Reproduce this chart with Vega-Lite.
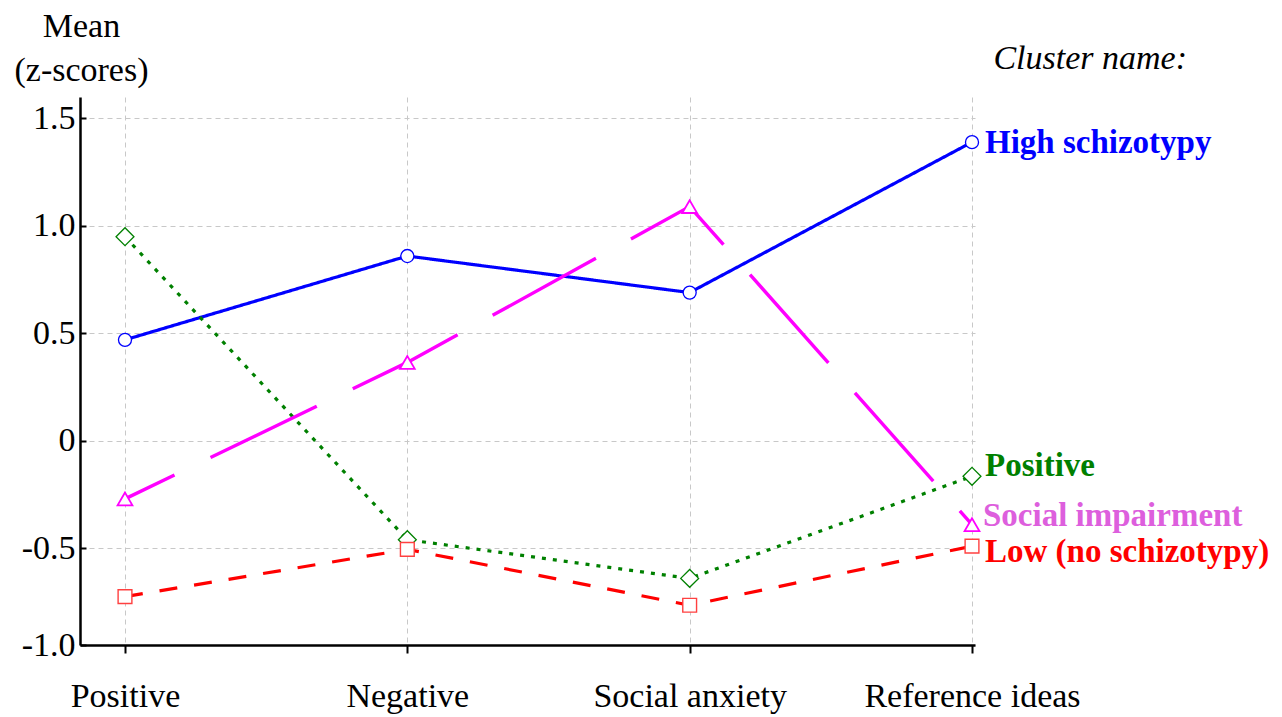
{
  "$schema": "https://vega.github.io/schema/vega-lite/v6.json",
  "autosize": {"type": "none"},
  "padding": {"left": 80, "top": 97, "right": 307, "bottom": 72},
  "width": 895,
  "height": 548,
  "background": "white",
  "config": {
    "view": {"stroke": null},
    "font": "Liberation Serif",
    "axis": {
      "labelFont": "Liberation Serif",
      "titleFont": "Liberation Serif",
      "labelColor": "black",
      "titleColor": "black",
      "domainColor": "black",
      "domainWidth": 2.5,
      "tickColor": "black",
      "tickWidth": 2,
      "gridColor": "#c8c8c8",
      "gridDash": [5, 4],
      "gridWidth": 1
    }
  },
  "title": {
    "text": "Cluster name:",
    "anchor": "end",
    "frame": "group",
    "font": "Liberation Serif",
    "fontSize": 34,
    "fontStyle": "italic",
    "fontWeight": "normal",
    "color": "black",
    "baseline": "alphabetic",
    "offset": -94,
    "dx": 212
  },
  "data": {
    "values": [
      {"cluster": "High schizotypy", "dimension": "Positive", "mean": 0.47},
      {"cluster": "High schizotypy", "dimension": "Negative", "mean": 0.86},
      {"cluster": "High schizotypy", "dimension": "Social anxiety", "mean": 0.69},
      {"cluster": "High schizotypy", "dimension": "Reference ideas", "mean": 1.39},
      {"cluster": "Positive", "dimension": "Positive", "mean": 0.95},
      {"cluster": "Positive", "dimension": "Negative", "mean": -0.46},
      {"cluster": "Positive", "dimension": "Social anxiety", "mean": -0.64},
      {"cluster": "Positive", "dimension": "Reference ideas", "mean": -0.165},
      {"cluster": "Social impairment", "dimension": "Positive", "mean": -0.27},
      {"cluster": "Social impairment", "dimension": "Negative", "mean": 0.365},
      {"cluster": "Social impairment", "dimension": "Social anxiety", "mean": 1.09},
      {"cluster": "Social impairment", "dimension": "Reference ideas", "mean": -0.39},
      {"cluster": "Low (no schizotypy)", "dimension": "Positive", "mean": -0.725},
      {"cluster": "Low (no schizotypy)", "dimension": "Negative", "mean": -0.505},
      {"cluster": "Low (no schizotypy)", "dimension": "Social anxiety", "mean": -0.765},
      {"cluster": "Low (no schizotypy)", "dimension": "Reference ideas", "mean": -0.49}
    ]
  },
  "encoding": {
    "x": {
      "field": "dimension",
      "type": "nominal",
      "sort": ["Positive", "Negative", "Social anxiety", "Reference ideas"],
      "scale": {"type": "point", "padding": 0.085, "align": 0.9375},
      "axis": {
        "title": null,
        "labelAngle": 0,
        "labelFontSize": 34,
        "labelPadding": 26,
        "labelLimit": 0,
        "tickSize": 8,
        "grid": true
      }
    },
    "y": {
      "field": "mean",
      "type": "quantitative",
      "scale": {"domain": [-0.95, 1.6], "nice": false, "zero": false},
      "axis": {
        "values": [-0.95, -0.5, 0, 0.5, 1, 1.5],
        "labelExpr": "datum.value < -0.9 ? '-1.0' : datum.value == 0 ? '0' : (datum.value < 0 ? '-' : '') + format(abs(datum.value), '.1f')",
        "labelFontSize": 34,
        "labelPadding": 11,
        "tickSize": -6,
        "grid": true,
        "title": ["Mean", "(z-scores)"],
        "titleFontSize": 34,
        "titleFontWeight": "normal",
        "titleAngle": 0,
        "titleAlign": "center",
        "titleBaseline": "alphabetic",
        "titleX": 1,
        "titleY": -61,
        "titleLineHeight": 44
      }
    }
  },
  "layer": [
    {
      "transform": [{"filter": "datum.cluster != 'Social impairment'"}],
      "mark": {"type": "line", "strokeWidth": 3.2},
      "encoding": {
        "color": {
          "field": "cluster",
          "type": "nominal",
          "scale": {
            "domain": ["High schizotypy", "Positive", "Social impairment", "Low (no schizotypy)"],
            "range": ["#0000ff", "#008000", "#ff00ff", "#ff0000"]
          },
          "legend": null
        },
        "strokeDash": {
          "field": "cluster",
          "type": "nominal",
          "scale": {
            "domain": ["High schizotypy", "Positive", "Low (no schizotypy)"],
            "range": [[1, 0], [4, 7], [18, 17]]
          },
          "legend": null
        }
      }
    },
    {
      "transform": [{"filter": "datum.cluster == 'Social impairment'"}],
      "mark": {"type": "line", "strokeWidth": 3.4, "strokeDash": [118, 40], "strokeDashOffset": 63},
      "encoding": {
        "color": {
          "field": "cluster",
          "type": "nominal",
          "scale": {
            "domain": ["High schizotypy", "Positive", "Social impairment", "Low (no schizotypy)"],
            "range": ["#0000ff", "#008000", "#ff00ff", "#ff0000"]
          },
          "legend": null
        }
      }
    },
    {
      "transform": [{"filter": "datum.cluster == 'High schizotypy'"}],
      "mark": {"type": "point", "shape": "circle", "size": 170, "filled": false, "fill": "white", "fillOpacity": 1, "stroke": "#0000ff", "strokeWidth": 1.3, "opacity": 1}
    },
    {
      "transform": [{"filter": "datum.cluster == 'Positive'"}],
      "mark": {"type": "point", "shape": "diamond", "size": 320, "filled": false, "fill": "white", "fillOpacity": 1, "stroke": "#008000", "strokeWidth": 1.3, "opacity": 1}
    },
    {
      "transform": [{"filter": "datum.cluster == 'Social impairment'"}],
      "mark": {"type": "point", "shape": "triangle-up", "size": 220, "filled": false, "fill": "white", "fillOpacity": 1, "stroke": "#ff00ff", "strokeWidth": 1.8, "opacity": 1}
    },
    {
      "transform": [{"filter": "datum.cluster == 'Low (no schizotypy)'"}],
      "mark": {"type": "point", "shape": "square", "size": 190, "filled": false, "fill": "white", "fillOpacity": 1, "stroke": "#ff4040", "strokeWidth": 1.4, "opacity": 1}
    },
    {
      "transform": [{"filter": "datum.cluster == 'High schizotypy' && datum.dimension == 'Reference ideas'"}],
      "mark": {"type": "text", "align": "left", "baseline": "middle", "dx": 13, "dy": 1, "fontSize": 33, "fontWeight": "bold", "font": "Liberation Serif", "color": "#0000ff"},
      "encoding": {"text": {"field": "cluster"}}
    },
    {
      "transform": [{"filter": "datum.cluster == 'Positive' && datum.dimension == 'Reference ideas'"}],
      "mark": {"type": "text", "align": "left", "baseline": "middle", "dx": 13, "dy": -10, "fontSize": 33, "fontWeight": "bold", "font": "Liberation Serif", "color": "#008000"},
      "encoding": {"text": {"field": "cluster"}}
    },
    {
      "transform": [{"filter": "datum.cluster == 'Social impairment' && datum.dimension == 'Reference ideas'"}],
      "mark": {"type": "text", "align": "left", "baseline": "middle", "dx": 11, "dy": -9, "fontSize": 33, "fontWeight": "bold", "font": "Liberation Serif", "color": "#dd5fdd"},
      "encoding": {"text": {"field": "cluster"}}
    },
    {
      "transform": [{"filter": "datum.cluster == 'Low (no schizotypy)' && datum.dimension == 'Reference ideas'"}],
      "mark": {"type": "text", "align": "left", "baseline": "middle", "dx": 13, "dy": 6, "fontSize": 33, "fontWeight": "bold", "font": "Liberation Serif", "color": "#ff0000"},
      "encoding": {"text": {"field": "cluster"}}
    }
  ]
}
